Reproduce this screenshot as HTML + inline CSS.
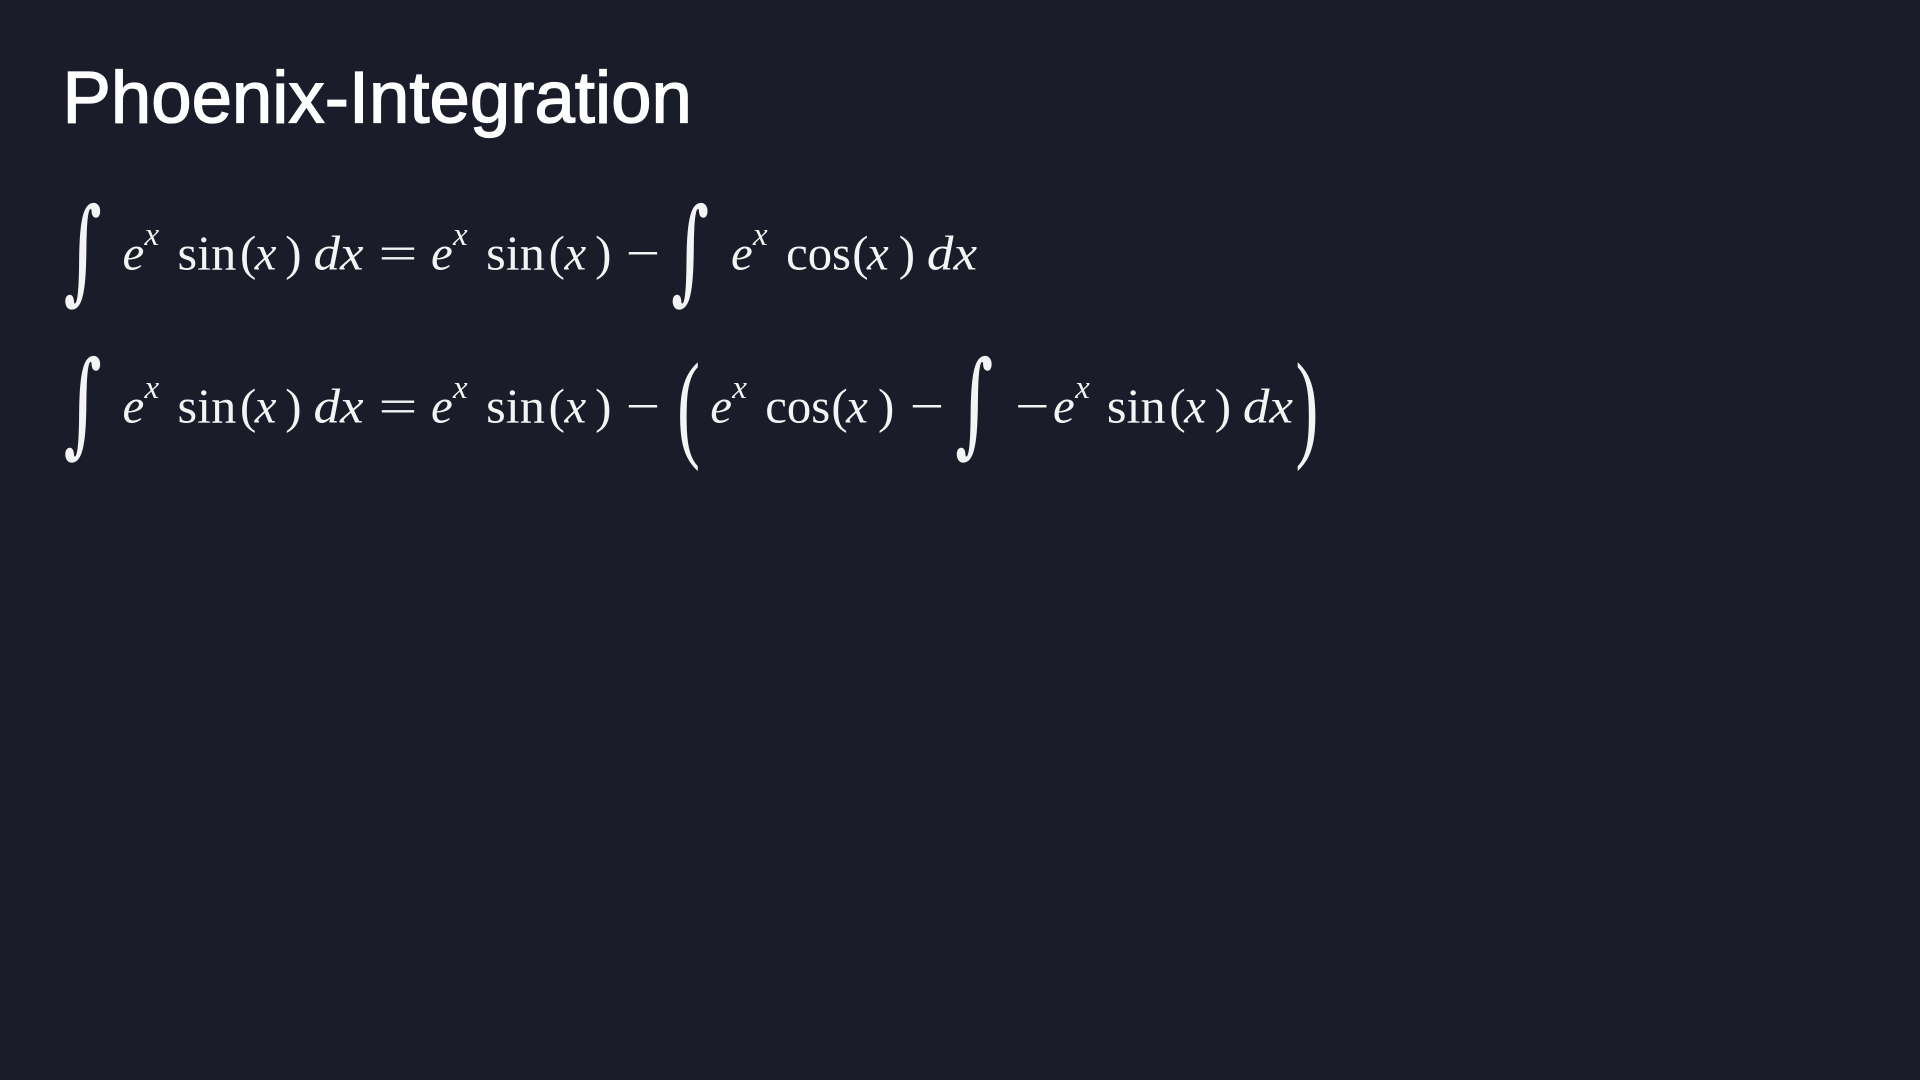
<!DOCTYPE html>
<html><head><meta charset="utf-8"><style>
html,body{margin:0;padding:0;background:#1a1c29;width:1920px;height:1080px;overflow:hidden}
svg{display:block}
.t{font-family:"Liberation Sans",sans-serif;fill:#fff;font-size:60px;stroke:#fff;stroke-width:1.1}
.m{font-family:"Liberation Serif",serif;fill:#f4f4f4;font-size:40px}
.i{font-style:italic}
.s{font-size:27px;font-style:italic}
.int{font-family:"DejaVu Serif",serif;fill:#f4f4f4;font-size:60px}
</style></head><body>
<svg width="1920" height="1080" viewBox="0 0 1568 882">
<rect width="1568" height="882" fill="#1a1c29"/>
<text class="t" x="51" y="100" textLength="514" lengthAdjust="spacingAndGlyphs">Phoenix-Integration</text>

<!-- line 1 -->
<g class="m">
<text class="int" transform="translate(52,236) scale(1,1.55)">∫</text>
<text class="i" x="100" y="220">e</text><text class="s" x="118" y="200">x</text>
<text x="145" y="220" textLength="48" lengthAdjust="spacingAndGlyphs">sin</text>
<text x="196" y="220">(</text><text class="i" x="208" y="220">x</text><text x="233" y="220">)</text>
<text class="i" x="256" y="220" textLength="41" lengthAdjust="spacingAndGlyphs">dx</text>
<text x="309" y="220" textLength="32" lengthAdjust="spacingAndGlyphs">=</text>
<text class="i" x="352" y="220">e</text><text class="s" x="370" y="200">x</text>
<text x="397" y="220" textLength="48" lengthAdjust="spacingAndGlyphs">sin</text>
<text x="448" y="220">(</text><text class="i" x="461" y="220">x</text><text x="486" y="220">)</text>
<text x="511" y="220" textLength="28" lengthAdjust="spacingAndGlyphs">−</text>
<text class="int" transform="translate(548,236) scale(1,1.55)">∫</text>
<text class="i" x="597" y="220">e</text><text class="s" x="615" y="200">x</text>
<text x="642" y="220" textLength="53" lengthAdjust="spacingAndGlyphs">cos</text>
<text x="696" y="220">(</text><text class="i" x="708" y="220">x</text><text x="734" y="220">)</text>
<text class="i" x="757" y="220" textLength="41" lengthAdjust="spacingAndGlyphs">dx</text>
</g>

<!-- line 2 -->
<g class="m">
<text class="int" transform="translate(52,361) scale(1,1.55)">∫</text>
<text class="i" x="100" y="345">e</text><text class="s" x="118" y="325">x</text>
<text x="145" y="345" textLength="48" lengthAdjust="spacingAndGlyphs">sin</text>
<text x="196" y="345">(</text><text class="i" x="208" y="345">x</text><text x="233" y="345">)</text>
<text class="i" x="256" y="345" textLength="41" lengthAdjust="spacingAndGlyphs">dx</text>
<text x="309" y="345" textLength="32" lengthAdjust="spacingAndGlyphs">=</text>
<text class="i" x="352" y="345">e</text><text class="s" x="370" y="325">x</text>
<text x="397" y="345" textLength="48" lengthAdjust="spacingAndGlyphs">sin</text>
<text x="448" y="345">(</text><text class="i" x="461" y="345">x</text><text x="486" y="345">)</text>
<text x="511" y="345" textLength="28" lengthAdjust="spacingAndGlyphs">−</text>
<text transform="translate(553,364) scale(1.4,2.45)">(</text>
<text class="i" x="580" y="345">e</text><text class="s" x="598" y="325">x</text>
<text x="625" y="345" textLength="53" lengthAdjust="spacingAndGlyphs">cos</text>
<text x="679" y="345">(</text><text class="i" x="691" y="345">x</text><text x="717" y="345">)</text>
<text x="743" y="345" textLength="28" lengthAdjust="spacingAndGlyphs">−</text>
<text class="int" transform="translate(780,361) scale(1,1.55)">∫</text>
<text x="829" y="345" textLength="28" lengthAdjust="spacingAndGlyphs">−</text>
<text class="i" x="860" y="345">e</text><text class="s" x="878" y="325">x</text>
<text x="904" y="345" textLength="48" lengthAdjust="spacingAndGlyphs">sin</text>
<text x="955" y="345">(</text><text class="i" x="967" y="345">x</text><text x="992" y="345">)</text>
<text class="i" x="1015" y="345" textLength="41" lengthAdjust="spacingAndGlyphs">dx</text>
<text transform="translate(1058,364) scale(1.4,2.45)">)</text>
</g>
</svg>
</body></html>
